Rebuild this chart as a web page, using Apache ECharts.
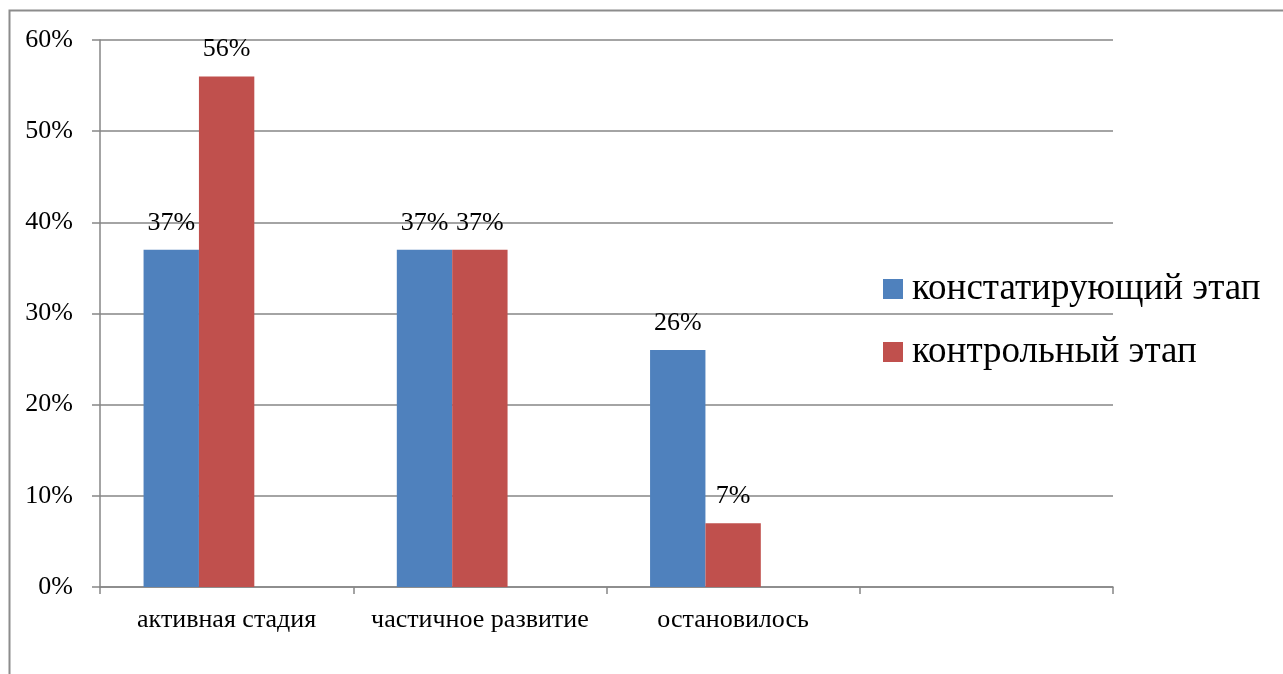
<!DOCTYPE html>
<html><head><meta charset="utf-8">
<script src="https://cdn.jsdelivr.net/npm/echarts@6/dist/echarts.min.js"></script>
<style>html,body{margin:0;padding:0;background:#fff}#c{width:1283px;height:674px}</style>
</head><body><div id="c"></div>
<script>
const categories = ['активная стадия', 'частичное развитие', 'остановилось', ''];
const seriesNames = ['констатирующий этап', 'контрольный этап'];
const constatValues = [0.37, 0.37, 0.26, null];
const controlValues = [0.56, 0.37, 0.07, null];
const emptyValues = [null, null, null, null];
const yTicks = { min: 0, max: 0.6, interval: 0.1 };

const font = 'Liberation Serif';
const gray = '#868686';
const chart = echarts.init(document.getElementById('c'));
const pct = v => Math.round(v * 100) + '%';
const labelCfg = {
  show: true, position: 'top', distance: 14, color: '#000',
  fontFamily: font, fontSize: 26,
  formatter: p => pct(p.value)
};
chart.setOption({
  animation: false,
  graphic: [{
    type: 'rect', left: 7, top: 8, shape: { width: 1400, height: 800 },
    style: { fill: 'none', stroke: '#8c8c8c', lineWidth: 2 }, silent: true
  }],
  grid: { left: 100, right: 170, top: 40, bottom: 87 },
  legend: {
    data: seriesNames, orient: 'vertical', left: 878, top: 264,
    icon: 'rect', itemWidth: 20, itemHeight: 20, itemGap: 23,
    textStyle: { fontFamily: font, fontSize: 37, color: '#000', lineHeight: 40, padding: [0, 0, 0, 4] }
  },
  xAxis: {
    type: 'category', data: categories,
    axisLine: { lineStyle: { color: gray, width: 1.5 } },
    axisTick: { show: true, interval: 0, length: 7, lineStyle: { color: gray, width: 1.5 } },
    axisLabel: { interval: 0, color: '#000', fontFamily: font, fontSize: 26, margin: 20 }
  },
  yAxis: {
    type: 'value', min: yTicks.min, max: yTicks.max, interval: yTicks.interval,
    axisLine: { show: true, lineStyle: { color: gray, width: 1.5 } },
    axisTick: { show: true, length: 8, lineStyle: { color: gray, width: 1.5 } },
    splitLine: { lineStyle: { color: gray, width: 1.5 } },
    axisLabel: { color: '#000', fontFamily: font, fontSize: 26, margin: 27, formatter: v => pct(v) }
  },
  series: [
    { name: seriesNames[0], type: 'bar', data: constatValues, barGap: '0%', barCategoryGap: '34.4%',
      itemStyle: { color: '#4F81BD' }, label: labelCfg },
    { name: seriesNames[1], type: 'bar', data: controlValues, barGap: '0%',
      itemStyle: { color: '#C0504D' }, label: labelCfg },
    { name: 'empty', type: 'bar', data: emptyValues, barGap: '0%', itemStyle: { color: '#9BBB59' } }
  ]
});
</script></body></html>
